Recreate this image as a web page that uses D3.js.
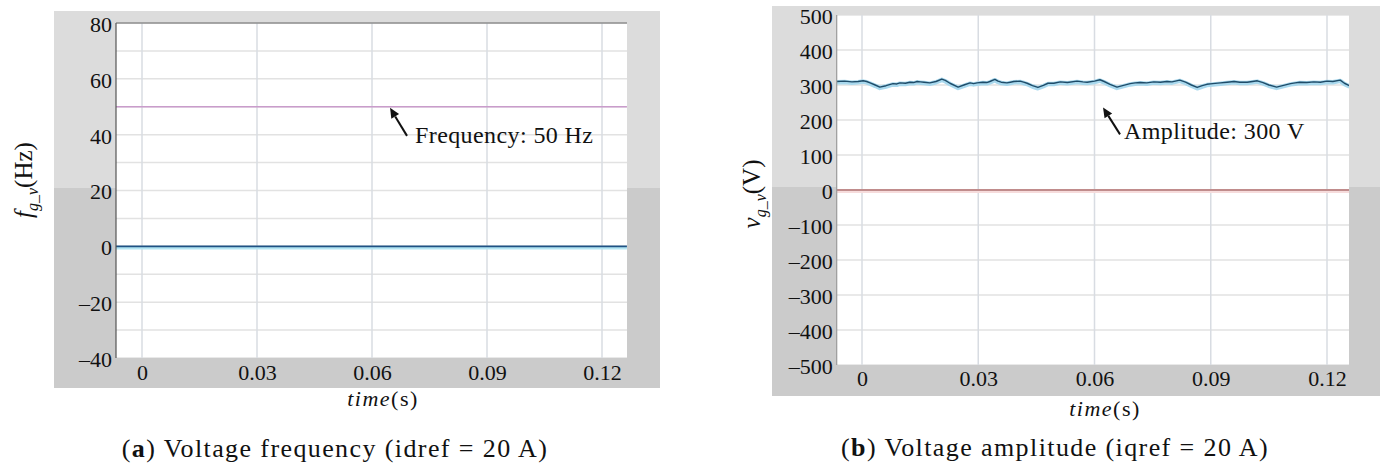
<!DOCTYPE html>
<html>
<head>
<meta charset="utf-8">
<script src="https://cdn.jsdelivr.net/npm/d3@7"></script>
<style>
  html, body { margin: 0; padding: 0; background: #ffffff; }
  svg { display: block; }
  text { font-family: "Liberation Serif", "Times New Roman", serif; fill: #111; }
</style>
</head>
<body>
<svg id="chart" width="1387" height="468"></svg>
<script>
// ---------------- DATA ----------------
const xTicks = [0, 0.03, 0.06, 0.09, 0.12];
const xTickLabels = ["0", "0.03", "0.06", "0.09", "0.12"];

// Panel (a): voltage frequency
const freqTicks = [80, 60, 40, 20, 0, -20, -40];
const freqTickLabels = ["80", "60", "40", "20", "0", "–20", "–40"];
const freqGrid = [80, 70, 60, 50, 40, 30, 20, 10, 0, -10, -20, -30, -40];
const freqTime = [-0.0068, 0.1265];
const freqMeasured = [50, 50];
const freqZero = [0, 0];

// Panel (b): voltage amplitude
const ampTicks = [500, 400, 300, 200, 100, 0, -100, -200, -300, -400, -500];
const ampTickLabels = ["500", "400", "300", "200", "100", "0", "–100", "–200", "–300", "–400", "–500"];
const ampTime = [
  -0.0065, -0.0045, -0.0026, -0.0010, 0.0003, 0.0012, 0.0021, 0.0034, 0.0046, 0.0062,
  0.0080, 0.0090, 0.0098, 0.0112, 0.0124, 0.0133, 0.0142, 0.0151, 0.0160, 0.0175,
  0.0191, 0.0206, 0.0215, 0.0227, 0.0248, 0.0263, 0.0279, 0.0288, 0.0297, 0.0312,
  0.0322, 0.0330, 0.0343, 0.0351, 0.0359, 0.0374, 0.0383, 0.0392, 0.0408, 0.0417,
  0.0426, 0.0440, 0.0454, 0.0468, 0.0480, 0.0495, 0.0512, 0.0530, 0.0555, 0.0570,
  0.0581, 0.0600, 0.0614, 0.0625, 0.0640, 0.0658, 0.0675, 0.0692, 0.0705, 0.0718,
  0.0735, 0.0753, 0.0770, 0.0787, 0.0800, 0.0820, 0.0835, 0.0850, 0.0865, 0.0878,
  0.0890, 0.0905, 0.0925, 0.0942, 0.0960, 0.0975, 0.0994, 0.1008, 0.1020, 0.1035,
  0.1050, 0.1070, 0.1088, 0.1106, 0.1118, 0.1130, 0.1148, 0.1166, 0.1183, 0.1200,
  0.1215, 0.1234, 0.1245, 0.1258
];
const ampValues = [
  310, 311, 309, 310, 312, 310, 306, 300, 294, 298,
  304, 303, 306, 305, 308, 307, 310, 309, 308, 306,
  310, 317, 313, 305, 294, 300, 306, 304, 306, 308,
  307, 310, 316, 311, 308, 306, 308, 310, 311, 308,
  305, 298, 293, 299, 305, 305, 309, 307, 311, 309,
  308, 311, 315, 310, 302, 294, 299, 304, 306, 307,
  306, 309, 308, 310, 309, 314, 308, 300, 293, 298,
  302, 304, 306, 308, 310, 308, 308, 310, 312, 307,
  300, 294, 299, 304, 306, 308, 307, 309, 308, 311,
  310, 314, 305, 298
];
const ampZeroTime = [-0.0066, 0.1258];
const ampZero = [0, 0];

// ---------------- DRAW ----------------
const svg = d3.select("#chart");
svg.append("rect").attr("width", 1387).attr("height", 468).attr("fill", "#ffffff");

const defs = svg.append("defs");
const SERIF = "'Liberation Serif', 'Times New Roman', serif";

function drawPanel(o) {
  const g = svg.append("g");
  // gray screenshot frame
  g.append("rect").attr("x", o.box[0]).attr("y", o.box[1])
    .attr("width", o.box[2] - o.box[0]).attr("height", o.split - o.box[1]).attr("fill", "#dcdcdc");
  g.append("rect").attr("x", o.box[0]).attr("y", o.split)
    .attr("width", o.box[2] - o.box[0]).attr("height", o.box[3] - o.split).attr("fill", "#cbcbcb");

  const [px0, py0, px1, py1] = o.plot;
  g.append("rect").attr("x", px0).attr("y", py0).attr("width", px1 - px0).attr("height", py1 - py0)
    .attr("fill", "#ffffff");

  const x = d3.scaleLinear().domain([0, 0.12]).range(o.xRange);
  const y = d3.scaleLinear().domain(o.yDomain).range([py1, py0]);

  const clipId = "clip-" + o.id;
  defs.append("clipPath").attr("id", clipId)
    .append("rect").attr("x", px0).attr("y", py0).attr("width", px1 - px0).attr("height", py1 - py0);

  const grid = g.append("g").attr("clip-path", `url(#${clipId})`);
  grid.selectAll("line.h").data(o.gridY).join("line").attr("class", "h")
    .attr("x1", px0).attr("x2", px1)
    .attr("y1", d => y(d)).attr("y2", d => y(d))
    .attr("stroke", "#e2e2e2").attr("stroke-width", 1.5);
  grid.selectAll("line.v").data(xTicks).join("line").attr("class", "v")
    .attr("x1", d => x(d)).attr("x2", d => x(d))
    .attr("y1", py0).attr("y2", py1)
    .attr("stroke", "#d8dce2").attr("stroke-width", 1.5);

  // series
  const plotG = g.append("g").attr("clip-path", `url(#${clipId})`);
  o.series.forEach(s => {
    const pts = s.t.map((t, i) => [t, s.v[i]]);
    const line = d3.line().x(d => x(d[0])).y(d => y(d[1]));
    if (s.halo) {
      plotG.append("path").datum(pts).attr("d", line)
        .attr("transform", `translate(0,${s.haloShift || 0})`)
        .attr("fill", "none").attr("stroke", s.halo).attr("stroke-width", s.haloWidth)
        .attr("stroke-linejoin", "round");
    }
    plotG.append("path").datum(pts).attr("d", line)
      .attr("fill", "none").attr("stroke", s.color).attr("stroke-width", s.width)
      .attr("stroke-linejoin", "round");
  });

  // axis lines
  g.append("line").attr("x1", px0).attr("x2", px0).attr("y1", py0).attr("y2", py1)
    .attr("stroke", o.axisColor).attr("stroke-width", 1.2);
  if (o.topBorder) {
    g.append("line").attr("x1", px0).attr("x2", px1).attr("y1", py0).attr("y2", py0)
      .attr("stroke", "#666").attr("stroke-width", 1.2);
  }

  // y axis labels
  const yAxis = d3.axisLeft(y).tickValues(o.yTicks).tickSize(0).tickPadding(o.yPad)
    .tickFormat((d, i) => o.yTickLabels[i]);
  const ya = g.append("g").attr("transform", `translate(${px0},0)`).call(yAxis);
  ya.select(".domain").remove();
  ya.attr("font-family", SERIF);
  ya.selectAll("text").attr("font-family", SERIF).attr("font-size", 22)
    .attr("fill", "#111").attr("dy", "0.38em");

  // x axis labels
  const xAxis = d3.axisBottom(x).tickValues(xTicks).tickSize(0).tickPadding(0)
    .tickFormat((d, i) => xTickLabels[i]);
  const xa = g.append("g").attr("transform", `translate(0,${o.xLabelBase})`).call(xAxis);
  xa.select(".domain").remove();
  xa.attr("font-family", SERIF);
  xa.selectAll("text").attr("font-family", SERIF).attr("font-size", 22)
    .attr("fill", "#111").attr("dy", 0).attr("y", 0);

  // x title
  const xt = g.append("text").attr("x", o.xTitle[0]).attr("y", o.xTitle[1])
    .attr("text-anchor", "middle").attr("font-size", 22).attr("letter-spacing", 1.5);
  xt.append("tspan").attr("font-style", "italic").text("time");
  xt.append("tspan").text("(s)");

  // y title
  const yt = g.append("text")
    .attr("transform", `translate(${o.yTitle[0]},${o.yTitle[1]}) rotate(-90)`)
    .attr("text-anchor", "middle").attr("font-size", 25);
  yt.append("tspan").attr("font-style", "italic").text(o.yTitleVar);
  yt.append("tspan").attr("font-style", "italic").attr("font-size", 16).attr("dy", 6).text("g_v");
  yt.append("tspan").attr("dy", -6).text(o.yTitleUnit);

  // annotation
  const a = o.annot;
  const tipX = x(a.t), tipY = y(a.v);
  const tailX = tipX + a.dx, tailY = tipY + a.dy;
  const ang = Math.atan2(tipY - tailY, tipX - tailX);
  const hl = 10, hw = 4.5;
  const bx = tipX - hl * Math.cos(ang), by = tipY - hl * Math.sin(ang);
  g.append("line").attr("x1", tailX).attr("y1", tailY).attr("x2", bx).attr("y2", by)
    .attr("stroke", "#111").attr("stroke-width", 2);
  g.append("path")
    .attr("d", `M${tipX},${tipY} L${bx + hw * Math.sin(ang)},${by - hw * Math.cos(ang)} L${bx - hw * Math.sin(ang)},${by + hw * Math.cos(ang)} Z`)
    .attr("fill", "#111");
  g.append("text").attr("x", tailX + a.tx).attr("y", tailY + a.ty)
    .attr("font-size", 24).attr("letter-spacing", 0.4).text(a.text);

  // caption
  const cap = g.append("text").attr("x", o.caption[0]).attr("y", o.caption[1])
    .attr("text-anchor", "middle").attr("font-size", 26).attr("letter-spacing", 1.4);
  cap.append("tspan").text("(");
  cap.append("tspan").attr("font-weight", "bold").text(o.capLetter);
  cap.append("tspan").text(") " + o.capText);
}

drawPanel({
  id: "a",
  box: [54, 11, 660, 388], split: 188,
  plot: [116, 23, 627, 358],
  xRange: [142, 602],
  yDomain: [-40, 80],
  gridY: freqGrid,
  yTicks: freqTicks, yTickLabels: freqTickLabels, yPad: 4,
  axisColor: "#555", topBorder: true,
  xLabelBase: 380,
  xTitle: [383, 406],
  yTitle: [32, 180], yTitleVar: "f", yTitleUnit: "(Hz)",
  series: [
    { t: freqTime, v: freqMeasured, color: "#c99ccb", width: 1.6 },
    { t: freqTime, v: freqZero, color: "#1f5284", width: 1.6, halo: "#b4e6f3", haloWidth: 2.5, haloShift: 1.8 }
  ],
  annot: { t: 0.0647, v: 49.6, dx: 17, dy: 28, tx: 8, ty: 7, text: "Frequency: 50 Hz" },
  caption: [335, 457], capLetter: "a", capText: "Voltage frequency (idref = 20 A)"
});

drawPanel({
  id: "b",
  box: [772, 6, 1380, 396], split: 187,
  plot: [836.7, 15, 1349, 365],
  xRange: [862, 1327],
  yDomain: [-500, 500],
  gridY: ampTicks,
  yTicks: ampTicks, yTickLabels: ampTickLabels, yPad: 4,
  axisColor: "#999", topBorder: false,
  xLabelBase: 386,
  xTitle: [1105, 416],
  yTitle: [760, 194], yTitleVar: "v", yTitleUnit: "(V)",
  series: [
    { t: ampZeroTime, v: ampZero, color: "#c08c8c", width: 1.8, halo: "#f6dcdc", haloWidth: 2.5, haloShift: 1.8 },
    { t: ampTime, v: ampValues, color: "#1f4c69", width: 1.4, halo: "#a9d9ee", haloWidth: 4.5, haloShift: 0.8 }
  ],
  annot: { t: 0.0622, v: 236, dx: 17, dy: 27, tx: 4, ty: 5, text: "Amplitude: 300 V" },
  caption: [1055, 456], capLetter: "b", capText: "Voltage amplitude (iqref = 20 A)"
});
</script>
</body>
</html>
